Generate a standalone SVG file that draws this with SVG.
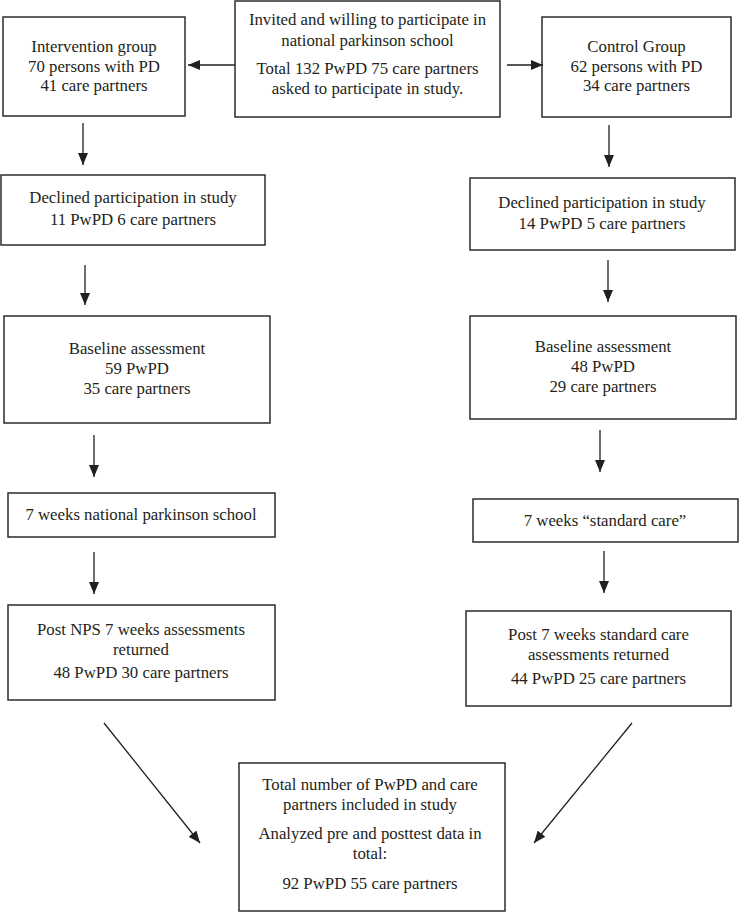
<svg xmlns="http://www.w3.org/2000/svg" width="739" height="912" viewBox="0 0 739 912">
<style>
  .box { fill: #ffffff; stroke: #2b2b2b; stroke-width: 1.5; }
  .t { font-family: 'Liberation Serif', 'Times New Roman', serif; font-size: 16.8px; fill: #231f20; text-anchor: middle; }
  .c { stroke: #231f20; stroke-width: 1.3; fill: none; marker-end: url(#ah); }
</style>
<defs>
  <marker id="ah" markerUnits="userSpaceOnUse" markerWidth="12" markerHeight="10" refX="12" refY="5" orient="auto">
    <path d="M0,0 L12,5 L0,10 z" fill="#231f20"/>
  </marker>
</defs>
<rect width="739" height="912" fill="#ffffff"/>

<g id="invited">
  <rect class="box" x="235" y="1" width="265" height="116"/>
  <text class="t" x="367.5" y="25">Invited and willing to participate in</text>
  <text class="t" x="367.5" y="46">national parkinson school</text>
  <text class="t" x="367.5" y="74">Total 132 PwPD 75 care partners</text>
  <text class="t" x="367.5" y="94">asked to participate in study.</text>
</g>

<g id="intervention">
  <rect class="box" x="3" y="17" width="182" height="99"/>
  <text class="t" x="94" y="52">Intervention group</text>
  <text class="t" x="94" y="71.5">70 persons with PD</text>
  <text class="t" x="94" y="91">41 care partners</text>
</g>

<g id="control">
  <rect class="box" x="542" y="17" width="189" height="100"/>
  <text class="t" x="636.5" y="52">Control Group</text>
  <text class="t" x="636.5" y="71.5">62 persons with PD</text>
  <text class="t" x="636.5" y="91">34 care partners</text>
</g>

<g id="declined-left">
  <rect class="box" x="1" y="175" width="264" height="70"/>
  <text class="t" x="133" y="203">Declined participation in study</text>
  <text class="t" x="133" y="225">11 PwPD 6 care partners</text>
</g>

<g id="declined-right">
  <rect class="box" x="470" y="178" width="265" height="72"/>
  <text class="t" x="602" y="208">Declined participation in study</text>
  <text class="t" x="602" y="229">14 PwPD 5 care partners</text>
</g>

<g id="baseline-left">
  <rect class="box" x="4" y="316" width="266" height="107"/>
  <text class="t" x="137" y="354">Baseline assessment</text>
  <text class="t" x="137" y="374">59 PwPD</text>
  <text class="t" x="137" y="394">35 care partners</text>
</g>

<g id="baseline-right">
  <rect class="box" x="470" y="316" width="266" height="103"/>
  <text class="t" x="603" y="352">Baseline assessment</text>
  <text class="t" x="603" y="372">48 PwPD</text>
  <text class="t" x="603" y="392">29 care partners</text>
</g>

<g id="nps">
  <rect class="box" x="8" y="493" width="267" height="44"/>
  <text class="t" x="141" y="520">7 weeks national parkinson school</text>
</g>

<g id="standard-care">
  <rect class="box" x="473" y="499" width="265" height="43"/>
  <text class="t" x="605" y="526">7 weeks “standard care”</text>
</g>

<g id="post-nps">
  <rect class="box" x="8" y="605" width="267" height="95"/>
  <text class="t" x="141" y="635">Post NPS 7 weeks assessments</text>
  <text class="t" x="141" y="655">returned</text>
  <text class="t" x="141" y="678">48 PwPD 30 care partners</text>
</g>

<g id="post-standard">
  <rect class="box" x="466" y="611" width="265" height="95"/>
  <text class="t" x="598.5" y="640">Post 7 weeks standard care</text>
  <text class="t" x="598.5" y="660">assessments returned</text>
  <text class="t" x="598.5" y="684">44 PwPD 25 care partners</text>
</g>

<g id="total">
  <rect class="box" x="239" y="763" width="266" height="148"/>
  <text class="t" x="370" y="790">Total number of PwPD and care</text>
  <text class="t" x="370" y="810">partners included in study</text>
  <text class="t" x="370" y="839">Analyzed pre and posttest data in</text>
  <text class="t" x="370" y="859">total:</text>
  <text class="t" x="370" y="889">92 PwPD 55 care partners</text>
</g>

<g id="connectors">
  <line class="c" x1="235" y1="65" x2="188" y2="65"/>
  <line class="c" x1="507" y1="65" x2="543" y2="65"/>
  <line class="c" x1="83" y1="123" x2="83" y2="165"/>
  <line class="c" x1="85" y1="265" x2="85" y2="305"/>
  <line class="c" x1="94" y1="435" x2="94" y2="477"/>
  <line class="c" x1="94" y1="552" x2="94" y2="594"/>
  <line class="c" x1="609" y1="125" x2="609" y2="167"/>
  <line class="c" x1="608" y1="260" x2="608" y2="302"/>
  <line class="c" x1="600" y1="430" x2="600" y2="472"/>
  <line class="c" x1="604" y1="551" x2="604" y2="593"/>
  <line class="c" x1="104" y1="723" x2="200" y2="843"/>
  <line class="c" x1="632" y1="723" x2="534" y2="843"/>
</g>
</svg>
